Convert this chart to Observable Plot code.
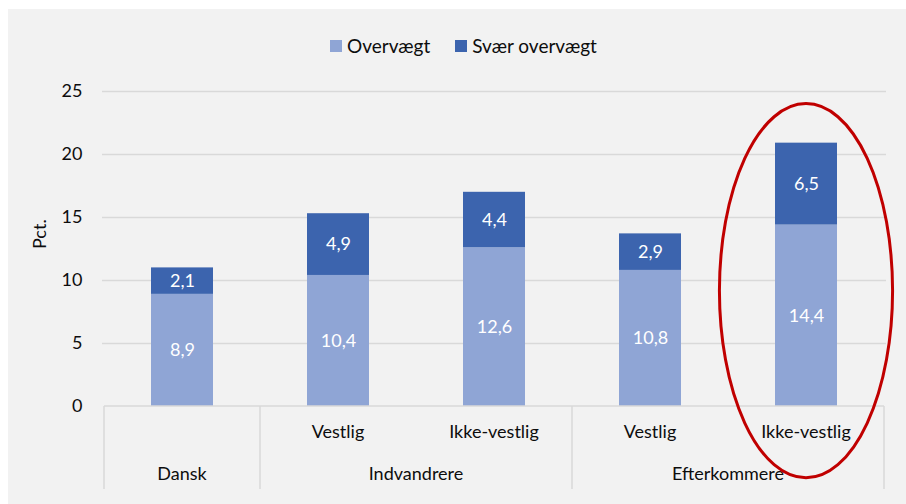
<!DOCTYPE html>
<html><head><meta charset="utf-8">
<script src="https://cdn.jsdelivr.net/npm/d3@7"></script>
<script src="https://cdn.jsdelivr.net/npm/@observablehq/plot@0.6"></script>
<style>
body{margin:0;background:#fff;font-family:Lato,"Open Sans",sans-serif;}
#wrap{position:relative;width:906px;height:504px;overflow:hidden;background:#fff;}
#panel{position:absolute;left:8px;top:9px;right:0;bottom:0;background:#f2f2f2;}
#legend{position:absolute;top:35px;left:330px;display:flex;align-items:center;font-size:19px;color:#0d0d0d;line-height:22px;}
#legend .item{display:flex;align-items:center;margin-right:25px;}
#legend .sw{width:12px;height:12px;margin-right:5px;}
#chart{position:absolute;left:0;top:70px;}
</style>
</head><body>
<div id="wrap"><div id="panel"></div><div id="legend"></div><div id="chart"></div></div>
<script>
// ---- data ----
const groups = ["Dansk", "Indvandrere", "Indvandrere", "Efterkommere", "Efterkommere"];
const origins = ["", "Vestlig", "Ikke-vestlig", "Vestlig", "Ikke-vestlig"];
const overvaegt = [8.9, 10.4, 12.6, 10.8, 14.4];
const svaerOvervaegt = [2.1, 4.9, 4.4, 2.9, 6.5];
const seriesNames = ["Overvægt", "Svær overvægt"];
const seriesColors = ["#8FA5D5", "#3C64AE"];
const yTicks = [0, 5, 10, 15, 20, 25];
const yLabel = "Pct.";
// highlighted category (red ellipse), in data units
const highlightIndex = 4;
const highlightY = [-5.7, 24];

const keys = groups.map((g, i) => g + "|" + origins[i]);
const rows = keys.flatMap((k, i) => [
  {key: k, series: seriesNames[0], value: overvaegt[i]},
  {key: k, series: seriesNames[1], value: svaerOvervaegt[i]}
]);
const fmt = v => v.toFixed(1).replace(".", ",");

// legend
const legend = document.getElementById("legend");
seriesNames.forEach((s, i) => {
  const it = document.createElement("div"); it.className = "item";
  const sw = document.createElement("div"); sw.className = "sw"; sw.style.background = seriesColors[i];
  const tx = document.createElement("span"); tx.textContent = s;
  it.appendChild(sw); it.appendChild(tx); legend.appendChild(it);
});

function bandInfo(scales) {
  const xs = scales.x;
  const bw = typeof xs.bandwidth === "function" ? xs.bandwidth() : scales.scales.x.bandwidth;
  const step = typeof xs.step === "function" ? xs.step() : scales.scales.x.step;
  return {xs, bw, step};
}

// multi-level category axis
function categoryAxis(index, scales) {
  const {xs, bw, step} = bandInfo(scales);
  const y0 = scales.y(0);
  const g = d3.create("svg:g");
  const center = k => xs(k) + bw / 2;
  const left = center(keys[0]) - step / 2, right = center(keys[keys.length - 1]) + step / 2;
  g.append("line").attr("x1", left).attr("x2", right).attr("y1", y0).attr("y2", y0)
    .attr("stroke", "#d9d9d9").attr("stroke-width", 1.5);
  const spans = [];
  groups.forEach((gr, i) => {
    if (spans.length && spans[spans.length - 1].name === gr) spans[spans.length - 1].end = i;
    else spans.push({name: gr, start: i, end: i});
  });
  const edges = new Set();
  spans.forEach(s => {
    const a = center(keys[s.start]) - step / 2, b = center(keys[s.end]) + step / 2;
    edges.add(a); edges.add(b);
    g.append("text").attr("x", (a + b) / 2).attr("y", y0 + 69).attr("text-anchor", "middle")
      .attr("dominant-baseline", "middle").attr("font-size", 18).attr("fill", "#0d0d0d").text(s.name);
  });
  edges.forEach(e => g.append("line").attr("x1", e).attr("x2", e).attr("y1", y0).attr("y2", y0 + 83)
    .attr("stroke", "#d9d9d9").attr("stroke-width", 1.5));
  keys.forEach((k, i) => {
    if (!origins[i]) return;
    g.append("text").attr("x", center(k)).attr("y", y0 + 27).attr("text-anchor", "middle")
      .attr("dominant-baseline", "middle").attr("font-size", 18).attr("fill", "#0d0d0d").text(origins[i]);
  });
  return g.node();
}

// red ellipse highlight
function highlight(index, scales) {
  const {xs, bw, step} = bandInfo(scales);
  const k = keys[highlightIndex];
  const cx = xs(k) + bw / 2;
  const yT = scales.y(highlightY[1]), yB = scales.y(highlightY[0]);
  return d3.create("svg:ellipse").attr("cx", cx).attr("cy", (yT + yB) / 2)
    .attr("rx", step * 0.555).attr("ry", Math.abs(yB - yT) / 2)
    .attr("fill", "none").attr("stroke", "#C00000").attr("stroke-width", 3).node();
}

const chart = Plot.plot({
  width: 906,
  height: 434,
  marginLeft: 102,
  marginRight: 20,
  marginTop: 21,
  marginBottom: 98,
  style: {fontFamily: "Lato, 'Open Sans', sans-serif", fontSize: "18px", background: "transparent", color: "#0d0d0d", overflow: "visible"},
  x: {domain: keys, paddingInner: 0.6, paddingOuter: 0.3, axis: null},
  y: {domain: [0, 25], ticks: yTicks, label: null},
  color: {domain: seriesNames, range: seriesColors},
  marks: [
    Plot.gridY(yTicks.filter(t => t > 0), {stroke: "#d9d9d9", strokeOpacity: 1, strokeWidth: 1.5}),
    Plot.axisY(yTicks, {tickSize: 0, tickPadding: 20, fontSize: 18, label: null}),
    Plot.text([yLabel], {text: d => d, frameAnchor: "left", dx: -62, rotate: -90, fontSize: 18, fill: "#0d0d0d"}),
    Plot.barY(rows, {x: "key", y: "value", z: "series", fill: "series", order: seriesNames}),
    Plot.text(rows, Plot.stackY({x: "key", y: "value", z: "series", order: seriesNames, text: d => fmt(d.value), fill: "white", fontSize: 18})),
    categoryAxis,
    highlight
  ]
});
document.getElementById("chart").appendChild(chart);
</script>
</body></html>
